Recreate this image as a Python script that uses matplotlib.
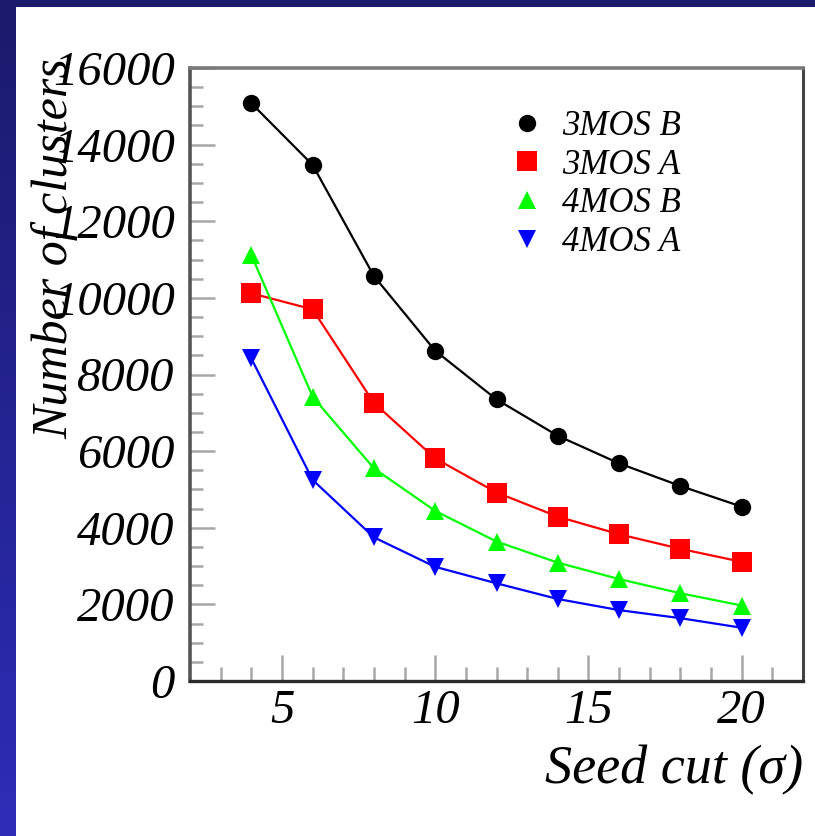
import numpy as np
import matplotlib
matplotlib.use("Agg")
import matplotlib.pyplot as plt
from matplotlib.lines import Line2D
from matplotlib.colors import LinearSegmentedColormap

# ---- data ----
seed_cut = [4, 6, 8, 10, 12, 14, 16, 18, 20]
mos3_b = [15080, 13470, 10570, 8620, 7350, 6400, 5680, 5090, 4550]
mos3_a = [10120, 9700, 7260, 5810, 4920, 4290, 3830, 3450, 3110]
mos4_b = [11120, 7420, 5550, 4440, 3640, 3090, 2660, 2290, 1970]
mos4_a = [8420, 5250, 3750, 2980, 2550, 2140, 1850, 1640, 1390]
series_labels = ["3MOS B", "3MOS A", "4MOS B", "4MOS A"]
x_label = "Seed cut (\u03c3)"
y_label = "Number of clusters"

W, H = 815, 836
fig = plt.figure(figsize=(W / 100, H / 100), dpi=100, facecolor="white")

# blue frame: gradient left band + top band
cmap = LinearSegmentedColormap.from_list("frame", ["#1b1a6b", "#2d2db8"])
band = fig.add_axes([0, 0, 15 / W, 1])
band.imshow(np.linspace(0, 1, 256).reshape(-1, 1), aspect="auto", cmap=cmap,
            extent=[0, 1, 0, 1])
band.set_axis_off()
top = fig.add_axes([0, 1 - 7 / H, 1, 7 / H])
top.set_facecolor("#1b1a6b")
top.set_xticks([]); top.set_yticks([])
for s in top.spines.values():
    s.set_visible(False)

# main axes
L, R, T, B = 190, 803, 68, 681
ax = fig.add_axes([L / W, 1 - B / H, (R - L) / W, (B - T) / H])

font = "Liberation Serif"
styles = [
    (mos3_b, "black", "o", 12.5),
    (mos3_a, "#ff0000", "s", 14),
    (mos4_b, "#00ff00", "^", 13),
    (mos4_a, "#0000ff", "v", 13),
]
handles = []
for (vals, col, mk, ms), lab in zip(styles, series_labels):
    ax.plot(seed_cut, vals, color=col, lw=1.6, marker=mk, ms=ms,
            markeredgewidth=0, zorder=3)
    handles.append(Line2D([], [], color=col, marker=mk, ms=ms, ls="",
                          markeredgewidth=0, label=lab))

ax.set_xlim(2, 22)
ax.set_ylim(0, 16000)
ax.set_xticks([5, 10, 15, 20])
ax.set_xticks(np.arange(3, 22, 1), minor=True)
ax.set_yticks(np.arange(0, 16001, 2000))
ax.set_yticks(np.arange(0, 16001, 500), minor=True)

ax.tick_params(which="both", direction="in", color="#a8a8a8", width=1.8)
ax.tick_params(axis="x", which="major", length=18.5, pad=6)
ax.tick_params(axis="x", which="minor", length=10)
ax.tick_params(axis="y", which="major", length=18, pad=11)
ax.tick_params(axis="y", which="minor", length=9.5)
for lbl in ax.get_xticklabels() + ax.get_yticklabels():
    lbl.set_fontfamily(font)
    lbl.set_fontstyle("italic")
    lbl.set_fontsize(35)

ax.spines["left"].set_color("#555555")
ax.spines["left"].set_linewidth(2.6)
ax.spines["top"].set_color("#7a7a7a")
ax.spines["top"].set_linewidth(2.6)
ax.spines["right"].set_color("#444444")
ax.spines["right"].set_linewidth(2.2)
ax.spines["bottom"].set_color("#2a2a2a")
ax.spines["bottom"].set_linewidth(2.4)

# legend (markers only, no frame)
fs_leg = 25
em = fs_leg / 72 * 100
hl = 1.0
x0 = (527 - hl * em / 2)
ax.legend(handles=handles, loc="upper left", frameon=False, numpoints=1,
          bbox_to_anchor=((x0 - L) / (R - L), (B - 110) / (B - T)),
          borderpad=0, borderaxespad=0, handlelength=hl, handletextpad=0.5,
          labelspacing=0.16,
          prop={"family": font, "style": "italic", "size": fs_leg})

# axis titles (ROOT style placement)
fig.text(803 / W, 1 - 783 / H, x_label, ha="right", va="baseline",
         fontsize=39, family=font, style="italic")
fig.text(31 / W, 1 - 58 / H, y_label, ha="left", va="top", rotation=90,
         fontsize=36, family=font, style="italic")

fig.savefig("out.png", dpi=100, facecolor="white")
